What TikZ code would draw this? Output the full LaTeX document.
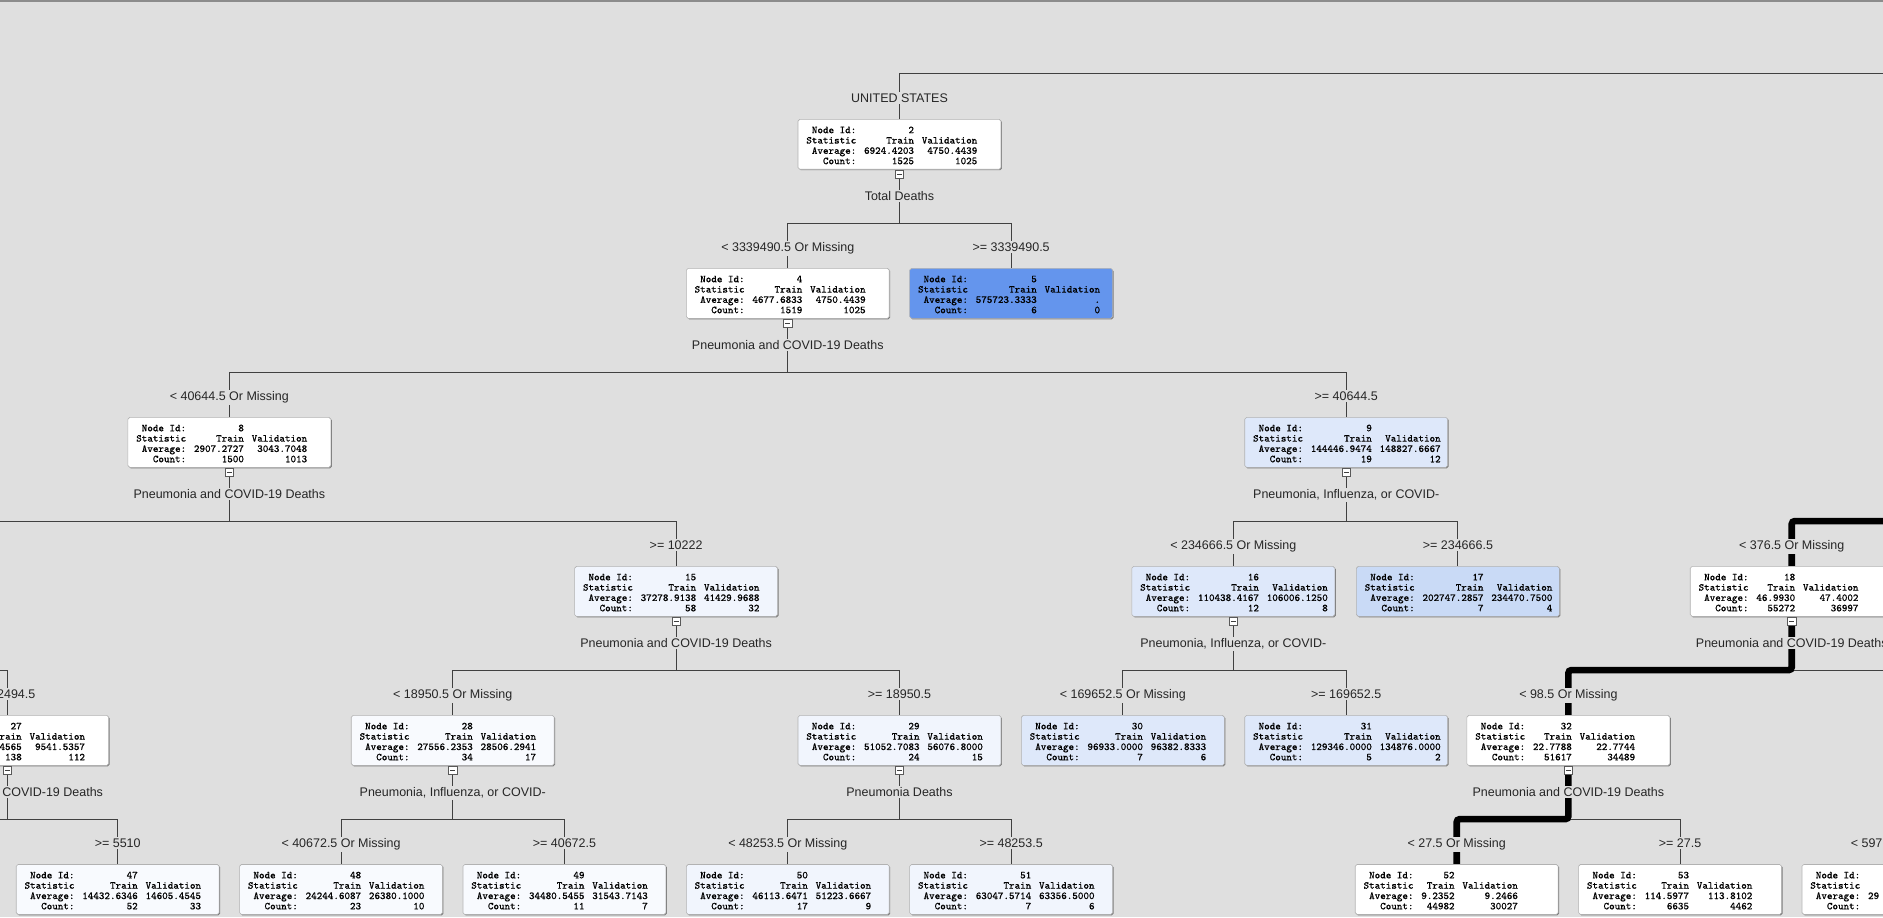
\documentclass[tikz,border=0pt]{standalone}
\usepackage{fontspec}
\usetikzlibrary{shadows,calc}
\newfontfamily\labelfont{Liberation Sans}
\newfontfamily\statfont{Latin Modern Mono}[FakeBold=0.4]
\definecolor{treebg}{RGB}{223,223,223}
\definecolor{linkgray}{RGB}{64,64,64}
\definecolor{leafA}{RGB}{100,149,237}
\definecolor{leafB}{RGB}{201,218,246}
\definecolor{leafC}{RGB}{222,232,250}
\definecolor{leafD}{RGB}{241,245,253}
\definecolor{leafE}{RGB}{248,250,254}
\pgfdeclarelayer{bg}
\pgfdeclarelayer{wires}
\pgfsetlayers{bg,wires,main}

% statistics table of one tree node
\newcommand{\nodestats}[5]{%
  {\statfont\fontsize{8.8}{8.6}\selectfont
  \begin{tabular}{@{}r@{\hspace{6.5pt}}r@{\hspace{6.5pt}}r@{}}
  Node Id: & #1 & \\
  Statistic & Train & Validation\\
  Average: & #2 & #3\\
  Count: & #4 & #5
  \end{tabular}}}
% name, x, y, fill, id, train avg, valid avg, train count, valid count
\newcommand{\treenode}[9]{%
  \node[treebox, fill=#4] (#1) at (#2,#3) {};
  \node[treetext] (#1t) at ([xshift=7pt,yshift=-5.6pt]#1.north west) {\nodestats{#5}{#6}{#7}{#8}{#9}};}

\begin{document}
\begin{tikzpicture}[x=1pt,y=-1pt,
    treebox/.style={rectangle, rounded corners=1.5pt, draw=black!30, line width=0.5pt,
      minimum width=169pt, minimum height=41.6pt, inner sep=0pt, anchor=north,
      drop shadow={shadow xshift=0.8pt, shadow yshift=-0.8pt, fill=black!55, opacity=0.9}},
    treetext/.style={anchor=north west, inner sep=0pt},
    expander/.style={rectangle, draw=black!65, fill=white, minimum size=7pt, inner sep=0pt,
      anchor=north, line width=0.5pt,
      path picture={\draw[black!75, line width=0.7pt]
        ([xshift=-2pt]path picture bounding box.center) -- ([xshift=2pt]path picture bounding box.center);}},
    lab/.style={font=\labelfont\fontsize{10.4}{12}\selectfont, text=black!85, fill=treebg,
      inner xsep=1pt, inner ysep=1.2pt, anchor=base},
    link/.style={draw=linkgray, line width=0.85pt},
    route/.style={draw=black, line width=5.5pt, rounded corners=2.5pt}]

    \useasboundingbox (0,0) rectangle (1568,764);

    % background and window edge
    \begin{pgfonlayer}{bg}
        \fill[treebg] (0,0) rectangle (1568,764);
        \draw[black!45, line width=1.2pt] (0,0.8) -- (1568,0.8);
    \end{pgfonlayer}

    % tree nodes, level by level
    \treenode{n2}{749}{99.1}{white}{2}{6924.4203}{4750.4439}{1525}{1025}
    \treenode{n4}{656}{223.2}{white}{4}{4677.6833}{4750.4439}{1519}{1025}
    \treenode{n5}{842}{223.2}{leafA}{5}{575723.3333}{.}{6}{0}
    \treenode{n8}{191}{347.3}{white}{8}{2907.2727}{3043.7048}{1500}{1013}
    \treenode{n9}{1121}{347.3}{leafC}{9}{144446.9474}{148827.6667}{19}{12}
    \treenode{n15}{563}{471.4}{leafD}{15}{37278.9138}{41429.9688}{58}{32}
    \treenode{n16}{1027}{471.4}{leafC}{16}{110438.4167}{106006.1250}{12}{8}
    \treenode{n17}{1214}{471.4}{leafB}{17}{202747.2857}{234470.7500}{7}{4}
    \treenode{n18}{1492}{471.4}{white}{18}{46.9930}{47.4002}{55272}{36997}
    \treenode{n27}{6}{595.5}{white}{27}{\phantom{0000.}4565}{9541.5357}{138}{112}
    \treenode{n28}{377}{595.5}{leafE}{28}{27556.2353}{28506.2941}{34}{17}
    \treenode{n29}{749}{595.5}{leafD}{29}{51052.7083}{56076.8000}{24}{15}
    \treenode{n30}{935}{595.5}{leafC}{30}{96933.0000}{96382.8333}{7}{6}
    \treenode{n31}{1121}{595.5}{leafC}{31}{129346.0000}{134876.0000}{5}{2}
    \treenode{n32}{1306}{595.5}{white}{32}{22.7788}{22.7744}{51617}{34489}
    \treenode{n47}{98}{719.6}{leafE}{47}{14432.6346}{14605.4545}{52}{33}
    \treenode{n48}{284}{719.6}{leafE}{48}{24244.6087}{26380.1000}{23}{10}
    \treenode{n49}{470}{719.6}{leafE}{49}{34480.5455}{31543.7143}{11}{7}
    \treenode{n50}{656}{719.6}{leafD}{50}{46113.6471}{51223.6667}{17}{9}
    \treenode{n51}{842}{719.6}{leafD}{51}{63047.5714}{63356.5000}{7}{6}
    \treenode{n52}{1213}{719.6}{white}{52}{9.2352}{9.2466}{44982}{30027}
    \treenode{n53}{1399}{719.6}{white}{53}{114.5977}{113.8102}{6635}{4462}
    \treenode{n54}{1585}{719.6}{white}{}{29\phantom{00.0000}}{}{}{}

    % collapse buttons
    \foreach \n in {2,4,8,9,15,16,18,27,28,29,32}
        \node[expander] (e\n) at (n\n.south) {};

    % split variables
    \node[lab] (v2) at (749,167.0) {Total Deaths};
    \node[lab] (v4) at (656,291.1) {Pneumonia and COVID-19 Deaths};
    \node[lab] (v8) at (191,415.2) {Pneumonia and COVID-19 Deaths};
    \node[lab] (v9) at (1121,415.2) {Pneumonia, Influenza, or COVID-};
    \node[lab] (v15) at (563,539.3) {Pneumonia and COVID-19 Deaths};
    \node[lab] (v16) at (1027,539.3) {Pneumonia, Influenza, or COVID-};
    \node[lab] (v18) at (1492,539.3) {Pneumonia and COVID-19 Deaths};
    \node[lab] (v27) at (6,663.4) {Pneumonia and COVID-19 Deaths};
    \node[lab] (v28) at (377,663.4) {Pneumonia, Influenza, or COVID-};
    \node[lab] (v29) at (749,663.4) {Pneumonia Deaths};
    \node[lab] (v32) at (1306,663.4) {Pneumonia and COVID-19 Deaths};

    % split rules
    \node[lab] (c2) at (749,85.3) {UNITED STATES};
    \node[lab] (c4) at (656,209.4) {< 3339490.5 Or Missing};
    \node[lab] (c5) at (842,209.4) {>= 3339490.5};
    \node[lab] (c8) at (191,333.5) {< 40644.5 Or Missing};
    \node[lab] (c9) at (1121,333.5) {>= 40644.5};
    \node[lab] (c15) at (563,457.6) {>= 10222};
    \node[lab] (c16) at (1027,457.6) {< 234666.5 Or Missing};
    \node[lab] (c17) at (1214,457.6) {>= 234666.5};
    \node[lab] (c18) at (1492,457.6) {< 376.5 Or Missing};
    \node[lab] (c27) at (6,581.7) {>= 2494.5};
    \node[lab] (c28) at (377,581.7) {< 18950.5 Or Missing};
    \node[lab] (c29) at (749,581.7) {>= 18950.5};
    \node[lab] (c30) at (935,581.7) {< 169652.5 Or Missing};
    \node[lab] (c31) at (1121,581.7) {>= 169652.5};
    \node[lab] (c32) at (1306,581.7) {< 98.5 Or Missing};
    \node[lab] (c47) at (98,705.8) {>= 5510};
    \node[lab] (c48) at (284,705.8) {< 40672.5 Or Missing};
    \node[lab] (c49) at (470,705.8) {>= 40672.5};
    \node[lab] (c50) at (656,705.8) {< 48253.5 Or Missing};
    \node[lab] (c51) at (842,705.8) {>= 48253.5};
    \node[lab] (c52) at (1213,705.8) {< 27.5 Or Missing};
    \node[lab] (c53) at (1399,705.8) {>= 27.5};
    \node[lab, anchor=base west] (c54) at (1540,705.8) {< 597};

    % connectors
    \begin{pgfonlayer}{wires}
        \coordinate (r1) at (1580,61.6);
        \coordinate (s2) at (749,185.7);
        \coordinate (s4) at (656,309.8);
        \coordinate (s8) at (191,433.9);
        \coordinate (l8) at (-20,433.9);
        \coordinate (s9) at (1121,433.9);
        \coordinate (r17) at (1580,433.9);
        \coordinate (l14) at (-20,558);
        \coordinate (s15) at (563,558);
        \coordinate (s16) at (1027,558);
        \coordinate (s18) at (1492,558);
        \coordinate (r18) at (1580,558);
        \coordinate (s27) at (6,682.1);
        \coordinate (l27) at (-20,682.1);
        \coordinate (s28) at (377,682.1);
        \coordinate (s29) at (749,682.1);
        \coordinate (s32) at (1306,682.1);

        \draw[link] (n2.north) |- (r1);
        \draw[link] (n2.south) -- (s2) -| (n4.north);
        \draw[link] (s2) -| (n5.north);
        \draw[link] (n4.south) -- (s4) -| (n8.north);
        \draw[link] (s4) -| (n9.north);
        \draw[link] (n8.south) -- (s8) -| (n15.north);
        \draw[link] (s8) -- (l8);
        \draw[link] (n9.south) -- (s9) -| (n16.north);
        \draw[link] (s9) -| (n17.north);
        \draw[link] (l14) -| (n27.north);
        \draw[link] (n15.south) -- (s15) -| (n28.north);
        \draw[link] (s15) -| (n29.north);
        \draw[link] (n16.south) -- (s16) -| (n30.north);
        \draw[link] (s16) -| (n31.north);
        \draw[link] (s18) -- (r18);
        \draw[link] (n27.south) -- (s27) -| (n47.north);
        \draw[link] (s27) -- (l27);
        \draw[link] (n28.south) -- (s28) -| (n48.north);
        \draw[link] (s28) -| (n49.north);
        \draw[link] (n29.south) -- (s29) -| (n50.north);
        \draw[link] (s29) -| (n51.north);
        \draw[link] (s32) -| (n53.north);

        % highlighted path
        \draw[route] (r17) -| (n18.north);
        \draw[route] (n18.south) -- (s18) -| (n32.north);
        \draw[route] (n32.south) -- (s32) -| (n52.north);
    \end{pgfonlayer}
\end{tikzpicture}
\end{document}
